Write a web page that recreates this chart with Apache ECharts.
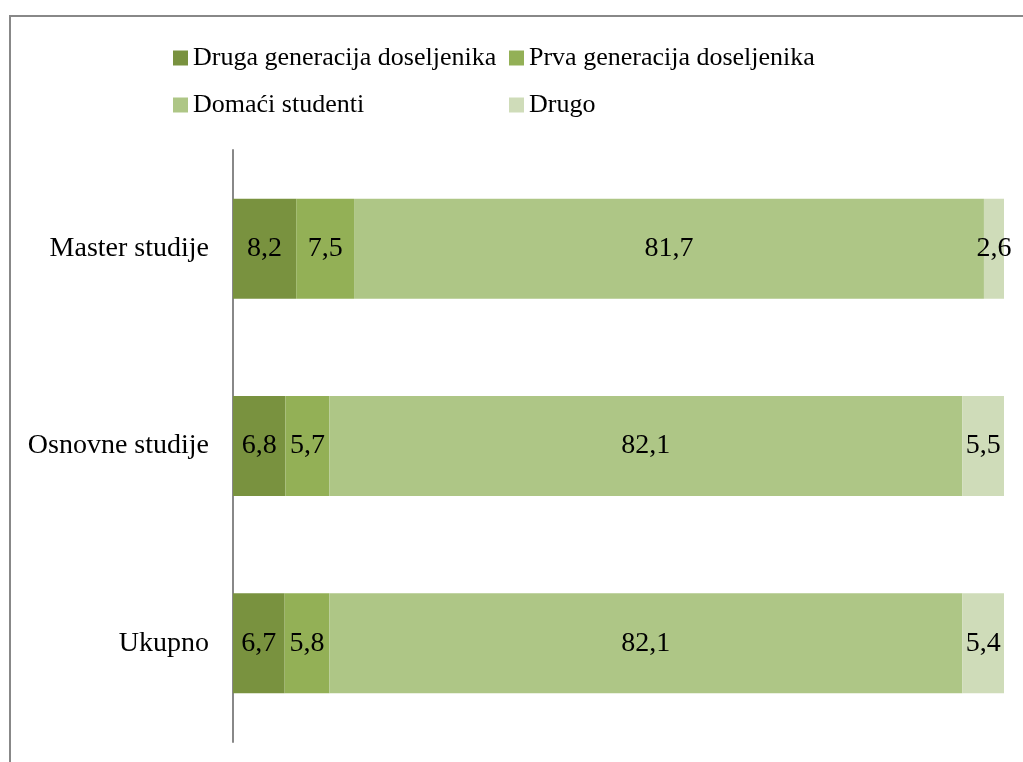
<!DOCTYPE html>
<html>
<head>
<meta charset="utf-8">
<script src="https://cdn.jsdelivr.net/npm/echarts@6/dist/echarts.min.js"></script>
<style>
html, body { margin: 0; padding: 0; background: #fff; }
#main { width: 1023px; height: 762px; }
</style>
</head>
<body>
<div id="main"></div>
<script>
// kategorije (odozgo prema dolje)
var categories = ['Master studije', 'Osnovne studije', 'Ukupno'];
var seriesNames = ['Druga generacija doseljenika', 'Prva generacija doseljenika', 'Domaći studenti', 'Drugo'];
var drugaGen = [8.2, 6.8, 6.7];
var prvaGen = [7.5, 5.7, 5.8];
var domaci = [81.7, 82.1, 82.1];
var drugo = [2.6, 5.5, 5.4];
var colors = ['#79923f', '#93b056', '#aec686', '#cfdcb9'];

var font = 'Liberation Serif';
var fontSize = 28;
var legendSize = 26;

var myChart = echarts.init(document.getElementById('main'));

function mkSeries(name, data, color) {
    return {
        name: name,
        type: 'bar',
        stack: 'ukupno',
        barWidth: 100,
        itemStyle: { color: color },
        label: {
            show: true,
            position: 'inside',
            color: '#000',
            fontFamily: font,
            fontSize: fontSize,
            formatter: function (p) { return String(p.value).replace('.', ','); }
        },
        data: data
    };
}

var legendText = { fontFamily: font, fontSize: legendSize, color: '#000' };

var option = {
    animation: false,
    legend: [
        {
            orient: 'vertical',
            left: 168,
            top: 40,
            itemWidth: 15,
            itemHeight: 15,
            itemGap: 21,
            icon: 'rect',
            textStyle: legendText,
            data: [seriesNames[0], seriesNames[2]]
        },
        {
            orient: 'vertical',
            left: 504,
            top: 40,
            itemWidth: 15,
            itemHeight: 15,
            itemGap: 21,
            icon: 'rect',
            textStyle: legendText,
            data: [seriesNames[1], seriesNames[3]]
        }
    ],
    graphic: [{
        type: 'rect',
        shape: { x: 10, y: 16, width: 1100, height: 1000 },
        style: { fill: 'none', stroke: '#888', lineWidth: 2 },
        silent: true
    }],
    grid: {
        left: 233,
        right: 19,
        top: 150,
        bottom: 20
    },
    xAxis: {
        type: 'value',
        min: 0,
        max: 100,
        show: false
    },
    yAxis: {
        type: 'category',
        inverse: true,
        data: categories,
        axisLine: { show: true, lineStyle: { color: '#888', width: 2 } },
        axisTick: { show: false },
        axisLabel: {
            margin: 24,
            color: '#000',
            fontFamily: font,
            fontSize: fontSize
        }
    },
    series: [
        mkSeries(seriesNames[0], drugaGen, colors[0]),
        mkSeries(seriesNames[1], prvaGen, colors[1]),
        mkSeries(seriesNames[2], domaci, colors[2]),
        mkSeries(seriesNames[3], drugo, colors[3])
    ]
};

myChart.setOption(option);
</script>
</body>
</html>
